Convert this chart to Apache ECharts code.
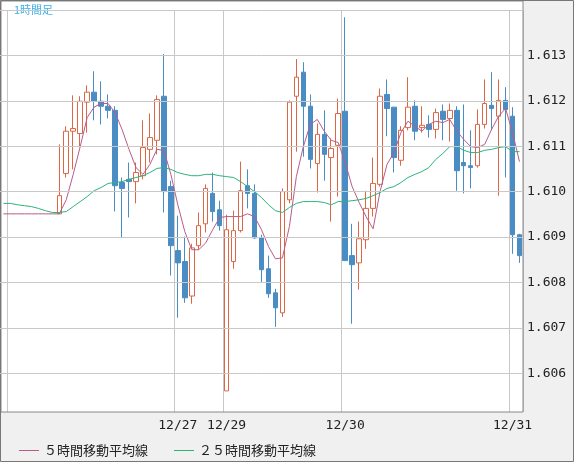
<!DOCTYPE html>
<html>
<head>
<meta charset="utf-8">
<script src="https://cdn.jsdelivr.net/npm/echarts@6/dist/echarts.min.js"></script>
<style>html,body{margin:0;padding:0;background:#f0f0f0}</style>
</head>
<body>
<div id="main" style="width:574px;height:462px;"></div>
<script>
// 8 empty slots before the first candle, 67 candles
var emptyLead = 8;
var tickLabels = {25: '12/27', 32: '12/29', 49: '12/30', 73: '12/31'};
var gridSlots = [1, 25, 32, 49, 73];

// [open, close, low, high]
var candles = [
    [1.60951,1.60991,1.60951,1.61104],[1.61040,1.61133,1.61031,1.61144],[1.61133,1.61139,1.61049,1.61212],
    [1.61128,1.61199,1.61099,1.61210],[1.61197,1.61219,1.61130,1.61234],[1.61219,1.61199,1.61157,1.61265],
    [1.61199,1.61188,1.61148,1.61243],[1.61188,1.61179,1.61161,1.61214],[1.61179,1.61013,1.60956,1.61188],
    [1.61020,1.61007,1.60898,1.61031],[1.61027,1.61022,1.60943,1.61064],[1.61022,1.61042,1.60974,1.61064],
    [1.61035,1.61097,1.61027,1.61157],[1.61093,1.61119,1.61064,1.61172],[1.61113,1.61203,1.61082,1.61212],
    [1.61210,1.61000,1.60954,1.61303],[1.61011,1.60881,1.60815,1.61024],[1.60870,1.60843,1.60722,1.60947],
    [1.60846,1.60766,1.60755,1.60901],[1.60770,1.60876,1.60753,1.60885],[1.60881,1.60925,1.60872,1.60954],
    [1.60929,1.61007,1.60910,1.61016],[1.60996,1.60956,1.60934,1.61042],[1.60960,1.60925,1.60914,1.60980],
    [1.60561,1.60916,1.60561,1.60949],[1.60846,1.60914,1.60830,1.60958],[1.60914,1.61002,1.60910,1.61066],
    [1.61013,1.60996,1.60963,1.61049],[1.60996,1.60898,1.60896,1.61016],[1.60898,1.60828,1.60801,1.60905],
    [1.60830,1.60775,1.60766,1.60859],[1.60777,1.60744,1.60702,1.60786],[1.60733,1.61000,1.60724,1.61007],
    [1.60982,1.61197,1.60974,1.61201],[1.61210,1.61252,1.61088,1.61292],[1.61263,1.61188,1.61077,1.61285],
    [1.61188,1.61071,1.61051,1.61214],[1.61062,1.61126,1.60998,1.61150],[1.61126,1.61082,1.61024,1.61179],
    [1.61075,1.61095,1.60934,1.61117],[1.61102,1.61172,1.60989,1.61205],[1.61177,1.60848,1.60848,1.61384],
    [1.60859,1.60839,1.60709,1.60929],[1.60843,1.60896,1.60784,1.60934],[1.60894,1.60963,1.60874,1.61002],
    [1.60963,1.61018,1.60945,1.61075],[1.61016,1.61210,1.61011,1.61227],[1.61214,1.61183,1.61122,1.61247],
    [1.61186,1.61075,1.61042,1.61186],[1.61069,1.61135,1.61057,1.61144],[1.61141,1.61186,1.61135,1.61252],
    [1.61188,1.61133,1.61113,1.61201],[1.61141,1.61146,1.61130,1.61188],[1.61148,1.61137,1.61119,1.61168],
    [1.61137,1.61174,1.61117,1.61183],[1.61177,1.61159,1.61113,1.61192],[1.61161,1.61179,1.61110,1.61194],
    [1.61179,1.61046,1.61002,1.61188],[1.61064,1.61057,1.60996,1.61192],[1.61057,1.61053,1.61007,1.61135],
    [1.61057,1.61148,1.61053,1.61181],[1.61148,1.61194,1.61139,1.61247],[1.61190,1.61183,1.61135,1.61263],
    [1.61166,1.61201,1.60991,1.61247],[1.61201,1.61181,1.61031,1.61230],[1.61166,1.60905,1.60863,1.61186],
    [1.60905,1.60859,1.60843,1.60907]
];

var ma5 = [
    1.60951,1.60951,1.60951,1.60951,1.60951,1.60951,1.60951,1.60951,
    1.60951,1.60982,1.61038,1.61099,1.61163,1.61186,1.61194,1.61194,1.61174,1.61137,
    1.61093,1.61053,1.61038,1.61060,1.61093,1.61091,1.61038,1.60971,1.60912,1.60872,
    1.60872,1.60887,1.60916,1.60943,1.60945,1.60945,1.60945,1.60951,1.60945,1.60916,
    1.60879,1.60852,1.60854,1.60923,1.61033,1.61099,1.61148,1.61159,1.61133,1.61113,
    1.61108,1.61064,1.61011,1.60976,1.60945,1.60918,1.61000,1.61060,1.61086,1.61130,
    1.61155,1.61144,1.61133,1.61148,1.61155,1.61152,1.61159,1.61133,1.61115,1.61099,
    1.61097,1.61104,1.61137,1.61166,1.61183,1.61130,1.61066
];

var ma25 = [
    1.60974,1.60974,1.60971,1.60969,1.60967,1.60963,1.60958,1.60954,
    1.60954,1.60956,1.60967,1.60978,1.60989,1.61002,1.61009,1.61018,1.61020,1.61022,
    1.61027,1.61031,1.61035,1.61042,1.61051,1.61053,1.61049,1.61042,1.61038,1.61035,
    1.61035,1.61038,1.61038,1.61035,1.61033,1.61031,1.61022,1.61011,1.61000,1.60987,
    1.60971,1.60958,1.60954,1.60965,1.60974,1.60978,1.60978,1.60978,1.60976,1.60971,
    1.60978,1.60978,1.60980,1.60982,1.60985,1.60991,1.60998,1.61007,1.61011,1.61020,
    1.61031,1.61038,1.61044,1.61053,1.61071,1.61084,1.61099,1.61099,1.61091,1.61086,
    1.61086,1.61091,1.61093,1.61097,1.61099,1.61088,1.61088
];

var categories = [];
for (var i = 0; i < emptyLead + candles.length; i++) {
    categories.push(tickLabels[i] || '');
}
var candleData = [];
for (var i = 0; i < emptyLead; i++) candleData.push('-');
candleData = candleData.concat(candles);

var myChart = echarts.init(document.getElementById('main'));

var option = {
    backgroundColor: '#f0f0f0',
    animation: false,
    grid: {left: -2, right: 51, top: 10, bottom: 43.4, show: true, backgroundColor: '#fff', borderWidth: 0},
    graphic: [
        {type: 'rect', z: -1, shape: {x: 1, y: 1, width: 522, height: 10}, style: {fill: '#fff'}},
        {type: 'rect', z: 150, shape: {x: 0, y: 412, width: 574, height: 50}, style: {fill: '#f0f0f0'}},
        {type: 'rect', z: 150, shape: {x: 1, y: 1, width: 522, height: 411}, style: {fill: 'none', stroke: '#888', lineWidth: 1}},
        {type: 'rect', z: 150, shape: {x: 0.5, y: 0.5, width: 573, height: 461}, style: {fill: 'none', stroke: '#777', lineWidth: 1}},
        {type: 'text', z: 150, left: 14, top: 4, style: {text: '1時間足', fill: '#3ab0e8', fontSize: 11, fontFamily: 'Noto Sans CJK JP'}}
    ],
    legend: {
        left: 14, top: 439, itemWidth: 20, itemHeight: 10, itemGap: 26, z: 200,
        textStyle: {fontSize: 13, color: '#222', fontFamily: 'Noto Sans CJK JP'},
        data: [{name: '５時間移動平均線', icon: 'path://M0,5H20V6H0Z'}, {name: '２５時間移動平均線', icon: 'path://M0,5H20V6H0Z'}]
    },
    xAxis: [{
        type: 'category', data: categories, boundaryGap: true,
        axisLine: {show: false}, axisTick: {show: false}, axisLabel: {show: false},
        splitLine: {show: true, interval: function (i) { return gridSlots.indexOf(i) >= 0; }, lineStyle: {color: '#c8c8c8', width: 1}}
    }, {
        type: 'category', data: categories, boundaryGap: true, position: 'bottom', z: 200,
        axisLine: {show: false}, axisTick: {show: false}, splitLine: {show: false},
        axisLabel: {interval: function (i, v) { return v !== ''; }, margin: 1, fontSize: 13, color: '#222', fontFamily: 'DejaVu Sans Mono'}
    }],
    yAxis: {
        type: 'value', position: 'right', min: 1.605, max: 1.614, interval: 0.001, z: 200,
        axisLine: {show: false}, axisTick: {show: false},
        splitLine: {lineStyle: {color: ['transparent', '#c8c8c8', '#c8c8c8', '#c8c8c8', '#c8c8c8', '#c8c8c8', '#c8c8c8', '#c8c8c8', '#c8c8c8', '#c8c8c8']}},
        axisLabel: {
            margin: 4, fontSize: 13, color: '#222', fontFamily: 'DejaVu Sans Mono',
            formatter: function (v) { return (v < 1.6055 || v > 1.6135) ? '' : v.toFixed(3); }
        }
    },
    series: [{
        type: 'candlestick', data: candleData, barWidth: 5,
        itemStyle: {color: '#fff', color0: '#4a8cc4', borderColor: '#dd6744', borderColor0: '#4a8cc4', borderWidth: 1}
    }, {
        name: '５時間移動平均線', type: 'line', data: ma5, symbol: 'none',
        lineStyle: {width: 1, color: '#b85c8a'}, itemStyle: {color: '#b85c8a'}
    }, {
        name: '２５時間移動平均線', type: 'line', data: ma25, symbol: 'none',
        lineStyle: {width: 1, color: '#2db37a'}, itemStyle: {color: '#2db37a'}
    }]
};
myChart.setOption(option);
</script>
</body>
</html>
